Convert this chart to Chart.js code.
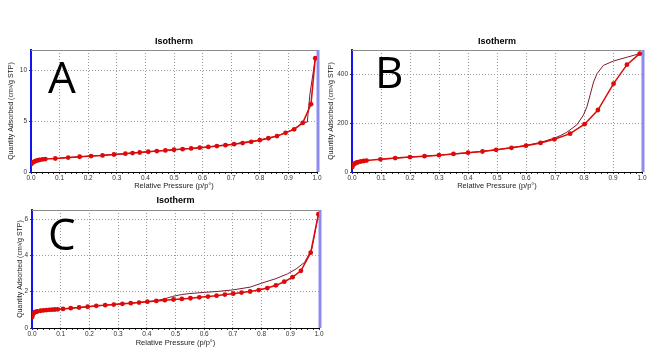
<!DOCTYPE html>
<html>
<head>
<meta charset="utf-8">
<script src="https://cdn.jsdelivr.net/npm/chart.js@4.4.0/dist/chart.umd.min.js"></script>
<style>
  html, body { margin: 0; padding: 0; background: #fff; }
  body { width: 664px; height: 352px; position: relative; overflow: hidden; }
  canvas { position: absolute; }
</style>
</head>
<body>
<canvas id="isoA" width="330" height="165" style="left:0;top:30px"></canvas>
<canvas id="isoB" width="344" height="165" style="left:320px;top:30px"></canvas>
<canvas id="isoC" width="330" height="157" style="left:0;top:195px"></canvas>
<script>
// ---- sample A : adsorption / desorption (p/p°, cm³/g STP) ----
const adsPA = [0.001, 0.005, 0.01, 0.015, 0.02, 0.025, 0.03, 0.04, 0.05, 0.085, 0.13, 0.17, 0.21, 0.25, 0.29, 0.33, 0.355, 0.38, 0.41, 0.44, 0.47, 0.50, 0.53, 0.56, 0.59, 0.62, 0.65, 0.68, 0.71, 0.74, 0.77, 0.80, 0.83, 0.86, 0.89, 0.92, 0.95, 0.979, 0.994];
const adsQA = [0.78, 0.92, 1.0, 1.07, 1.12, 1.16, 1.19, 1.24, 1.27, 1.33, 1.42, 1.5, 1.57, 1.63, 1.72, 1.8, 1.86, 1.92, 1.99, 2.06, 2.12, 2.19, 2.25, 2.32, 2.39, 2.47, 2.55, 2.64, 2.74, 2.85, 2.97, 3.13, 3.32, 3.53, 3.85, 4.2, 4.83, 6.67, 11.2];
const desPA = [0.994, 0.975, 0.966, 0.95, 0.92, 0.89, 0.86, 0.8, 0.7, 0.6, 0.5, 0.4, 0.3, 0.2, 0.1];
const desQA = [11.2, 7.6, 4.9, 4.85, 4.22, 3.87, 3.55, 3.15, 2.72, 2.41, 2.2, 1.97, 1.75, 1.55, 1.35];

// ---- sample B ----
const adsPB = [0.001, 0.005, 0.01, 0.015, 0.02, 0.03, 0.04, 0.05, 0.098, 0.149, 0.2, 0.25, 0.3, 0.35, 0.4, 0.45, 0.497, 0.55, 0.6, 0.65, 0.698, 0.752, 0.802, 0.848, 0.902, 0.948, 0.992];
const adsQB = [20, 30, 35, 38, 40, 43, 45, 47, 52, 57, 61, 65, 69, 74, 79, 84, 91, 99, 108, 119, 134, 157, 196, 254, 362, 440, 485];
const desPB = [0.992, 0.95, 0.902, 0.867, 0.845, 0.833, 0.821, 0.81, 0.798, 0.775, 0.741, 0.718, 0.7, 0.65, 0.6, 0.5, 0.4, 0.3, 0.2, 0.1];
const desQB = [485, 471, 455, 437, 403, 369, 315, 267, 233, 193, 163, 149, 140, 121, 109, 91, 79, 69, 61, 52];

// ---- sample C ----
const adsPC = [0.001, 0.003, 0.006, 0.01, 0.015, 0.02, 0.03, 0.04, 0.05, 0.06, 0.07, 0.08, 0.09, 0.108, 0.135, 0.164, 0.194, 0.224, 0.255, 0.285, 0.315, 0.344, 0.373, 0.402, 0.433, 0.463, 0.493, 0.522, 0.552, 0.583, 0.613, 0.643, 0.672, 0.701, 0.73, 0.76, 0.79, 0.82, 0.85, 0.879, 0.908, 0.937, 0.971, 0.998];
const adsQC = [0.6, 0.75, 0.82, 0.87, 0.9, 0.92, 0.95, 0.97, 0.99, 1.0, 1.01, 1.02, 1.03, 1.05, 1.09, 1.13, 1.17, 1.22, 1.26, 1.29, 1.33, 1.37, 1.4, 1.45, 1.49, 1.53, 1.57, 1.6, 1.64, 1.69, 1.73, 1.78, 1.84, 1.89, 1.95, 2.01, 2.09, 2.2, 2.35, 2.55, 2.8, 3.15, 4.15, 6.27];
const desPC = [0.998, 0.975, 0.95, 0.92, 0.89, 0.85, 0.8, 0.76, 0.7, 0.65, 0.6, 0.55, 0.52, 0.49, 0.46, 0.43, 0.38, 0.3, 0.2, 0.1];
const desQC = [6.27, 4.35, 3.62, 3.25, 2.98, 2.72, 2.47, 2.25, 2.1, 2.02, 1.96, 1.9, 1.84, 1.74, 1.6, 1.5, 1.42, 1.31, 1.18, 1.05];

const xTickStep = 0.02;   // minor ticks, labelled every 0.1
const FONT = '"Liberation Sans", Arial, sans-serif';

const toXY = (ps, qs) => ps.map((p, i) => ({ x: p, y: qs[i] }));

// top border, right border and the big panel letter
const framePlugin = {
  id: 'frame',
  beforeDatasetsDraw(chart, args, o) {
    const { ctx, chartArea: a } = chart;
    ctx.save();
    ctx.strokeStyle = '#8c8c8c';
    ctx.lineWidth = 1;
    ctx.beginPath();
    ctx.moveTo(a.left, a.top + 0.5);
    ctx.lineTo(a.right, a.top + 0.5);
    ctx.stroke();
    ctx.strokeStyle = '#8c8cf0';
    ctx.lineWidth = 3;
    ctx.beginPath();
    ctx.moveTo(a.right + 1, a.top);
    ctx.lineTo(a.right + 1, a.bottom);
    ctx.stroke();
    ctx.fillStyle = '#000';
    ctx.font = '44px "Open Sans", sans-serif';
    ctx.textBaseline = 'alphabetic';
    ctx.fillText(o.letter, a.left + o.dx, a.top + o.dy);
    ctx.restore();
  }
};

function makeIsotherm(id, cfg) {
  return new Chart(document.getElementById(id), {
    type: 'scatter',
    data: {
      datasets: [{
        label: 'Adsorption',
        data: toXY(cfg.adsP, cfg.adsQ),
        showLine: true,
        borderColor: '#dc0a0a',
        backgroundColor: '#dc0a0a',
        borderWidth: 1.5,
        pointRadius: 2.4,
        pointBorderWidth: 0
      }, {
        label: 'Desorption',
        data: toXY(cfg.desP, cfg.desQ),
        showLine: true,
        borderColor: '#7c1c2c',
        borderWidth: 1,
        pointRadius: 0
      }]
    },
    options: {
      responsive: false,
      animation: false,
      devicePixelRatio: 1,
      layout: { padding: { left: 0, right: cfg.padRight, top: 0, bottom: 0 } },
      plugins: {
        legend: { display: false },
        tooltip: { enabled: false },
        title: {
          display: true,
          text: 'Isotherm',
          fullSize: false,
          color: '#000',
          font: { family: FONT, size: 9, weight: 'bold', lineHeight: 1.2 },
          padding: { top: cfg.titleTop, bottom: cfg.titleBottom }
        },
        frame: { letter: cfg.letter, dx: cfg.letterDx, dy: cfg.letterDy }
      },
      scales: {
        x: {
          type: 'linear',
          min: 0,
          max: 1,
          afterFit: s => { s.height = cfg.xHeight; },
          ticks: {
            stepSize: xTickStep,
            autoSkip: false,
            maxRotation: 0,
            padding: 0,
            color: '#333',
            font: { family: FONT, size: 6.5 },
            callback: v => (Math.round(v * 100) % 10 === 0 ? v.toFixed(1) : '')
          },
          grid: {
            color: c => (c.tick && Math.round(c.tick.value * 100) % 10 === 0 ? '#9a9a9a' : 'rgba(0,0,0,0)'),
            tickColor: '#333',
            tickLength: 2
          },
          border: { color: '#000', width: 1, dash: [1, 2] },
          title: {
            display: true,
            text: 'Relative Pressure (p/p°)',
            color: '#222',
            font: { family: FONT, size: 7.5 },
            padding: { top: 0, bottom: 5 }
          }
        },
        y: {
          min: 0,
          max: cfg.yMax,
          afterFit: s => { s.width = cfg.yWidth; },
          afterBuildTicks: s => { s.ticks = s.ticks.filter(t => t.value % cfg.yStep === 0); },
          ticks: {
            stepSize: cfg.yStep,
            padding: 2,
            color: '#333',
            font: { family: FONT, size: 6.5 }
          },
          grid: {
            color: c => (c.tick && c.tick.value === 0 ? 'rgba(0,0,0,0)' : '#9a9a9a'),
            tickColor: '#333',
            tickLength: 2
          },
          border: { color: '#1414f0', width: 2, dash: [1, 2] },
          title: {
            display: true,
            text: 'Quantity Adsorbed (cm³/g STP)',
            color: '#222',
            font: { family: FONT, size: 7 },
            padding: { top: cfg.yTitlePad, bottom: 0 }
          }
        }
      }
    },
    plugins: [framePlugin]
  });
}

makeIsotherm('isoA', {
  adsP: adsPA, adsQ: adsQA, desP: desPA, desQ: desQA,
  yMax: 12, yStep: 5, yWidth: 31, padRight: 13, xHeight: 23,
  titleTop: 6.3, titleBottom: 2.9, yTitlePad: 6.8,
  letter: 'A', letterDx: 17, letterDy: 43
});

makeIsotherm('isoB', {
  adsP: adsPB, adsQ: adsQB, desP: desPB, desQ: desQB,
  yMax: 500, yStep: 200, yWidth: 32, padRight: 22, xHeight: 23,
  titleTop: 6.3, titleBottom: 2.9, yTitlePad: 6.8,
  letter: 'B', letterDx: 23, letterDy: 38
});

makeIsotherm('isoC', {
  adsP: adsPC, adsQ: adsQC, desP: desPC, desQ: desQC,
  yMax: 6.5, yStep: 2, yWidth: 32, padRight: 11, xHeight: 24,
  titleTop: 0.6, titleBottom: 3.6, yTitlePad: 15.8,
  letter: 'C', letterDx: 16, letterDy: 40
});
</script>
</body>
</html>
